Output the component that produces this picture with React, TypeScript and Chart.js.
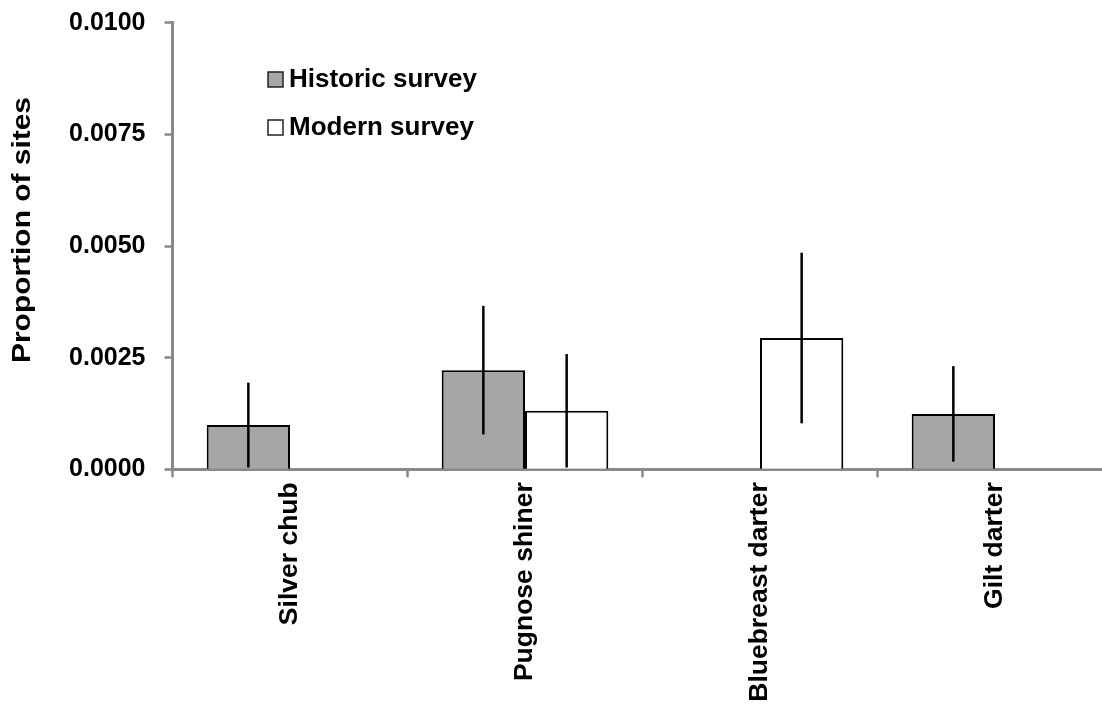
import React, { useEffect, useRef } from "react";
import { Chart, registerables } from "chart.js";

Chart.register(...registerables);

const categories = ["Silver chub", "Pugnose shiner", "Bluebreast darter", "Gilt darter"];
const seriesNames = ["Historic survey", "Modern survey"];
const historicValues = [0.00099, 0.00222, null, 0.00124];
const historicErrors = [0.00095, 0.00144, null, 0.00107];
const modernValues = [null, 0.00131, 0.00294, null];
const modernErrors = [null, 0.00127, 0.00191, null];
const yTickValues = [0, 0.0025, 0.005, 0.0075, 0.01];
const yTitle = "Proportion of sites";

const FONT = "Arial, 'Liberation Sans', sans-serif";
const AXIS_GRAY = "#898989";

const errorBarPlugin = {
  id: "errorBars",
  afterDatasetsDraw(chart: any) {
    const ctx = chart.ctx;
    const y = chart.scales.y;
    chart.data.datasets.forEach((ds: any, di: number) => {
      const meta = chart.getDatasetMeta(di);
      ds.values.forEach((v: number | null, i: number) => {
        const e = ds.errors[i];
        if (v == null || e == null) return;
        const bar = meta.data[i];
        const top = y.getPixelForValue(v + e);
        const bottom = y.getPixelForValue(Math.max(0, v - e));
        ctx.save();
        ctx.strokeStyle = "#000";
        ctx.lineWidth = 2.5;
        ctx.beginPath();
        ctx.moveTo(bar.x, top);
        ctx.lineTo(bar.x, bottom);
        ctx.stroke();
        ctx.restore();
      });
    });
  },
};

const legendTitlePlugin = {
  id: "legendTitle",
  afterDraw(chart: any) {
    const ctx = chart.ctx;
    ctx.save();
    // legend
    chart.data.datasets.forEach((ds: any, i: number) => {
      const bx = 268;
      const by = 72 + i * 48;
      ctx.fillStyle = ds.backgroundColor;
      ctx.fillRect(bx, by, 15, 15);
      ctx.strokeStyle = "#222";
      ctx.lineWidth = 1.5;
      ctx.strokeRect(bx, by, 15, 15);
      ctx.fillStyle = "#000";
      ctx.font = `bold 26px ${FONT}`;
      ctx.textAlign = "left";
      ctx.textBaseline = "middle";
      ctx.fillText(ds.label, 289, by + 8);
    });
    // y axis title
    ctx.translate(23, 230);
    ctx.rotate(-Math.PI / 2);
    ctx.font = `bold 25px ${FONT}`;
    ctx.textAlign = "center";
    ctx.textBaseline = "middle";
    const w = ctx.measureText(yTitle).width;
    const sx = 266 / w;
    ctx.scale(sx, 1);
    ctx.fillStyle = "#000";
    ctx.fillText(yTitle, 0, 0);
    ctx.restore();
  },
};

export default function App() {
  const ref = useRef<HTMLCanvasElement | null>(null);
  useEffect(() => {
    if (!ref.current) return;
    const chart = new Chart(ref.current, {
      type: "bar",
      data: {
        labels: categories,
        datasets: [
          {
            label: seriesNames[0],
            data: historicValues,
            values: historicValues,
            errors: historicErrors,
            backgroundColor: "#a6a6a6",
            borderColor: "#000",
            borderWidth: 2,
          } as any,
          {
            label: seriesNames[1],
            data: modernValues,
            values: modernValues,
            errors: modernErrors,
            backgroundColor: "#ffffff",
            borderColor: "#000",
            borderWidth: 2,
          } as any,
        ],
      },
      options: {
        animation: false,
        responsive: true,
        maintainAspectRatio: false,
        layout: { padding: { top: 22.7, right: 7.5, left: 0, bottom: 0 } },
        datasets: { bar: { categoryPercentage: 0.709, barPercentage: 1 } },
        plugins: { legend: { display: false }, tooltip: { enabled: false } },
        scales: {
          x: {
            offset: true,
            grid: {
              offset: true,
              drawOnChartArea: false,
              drawTicks: true,
              tickLength: 8,
              tickWidth: 2.5,
              tickColor: AXIS_GRAY,
            },
            border: { display: true, color: AXIS_GRAY, width: 3 },
            ticks: {
              autoSkip: false,
              minRotation: 90,
              maxRotation: 90,
              padding: 5,
              color: "#000",
              font: { family: FONT, size: 26.5, weight: "bold" },
            },
            afterFit(scale: any) {
              scale.height = 706 - 469.3;
              scale.paddingLeft = 0;
              scale.paddingRight = 0;
            },
          },
          y: {
            min: 0,
            max: 0.01,
            afterBuildTicks(scale: any) {
              scale.ticks = yTickValues.map((v) => ({ value: v }));
            },
            grid: {
              drawOnChartArea: false,
              drawTicks: true,
              tickLength: 8,
              tickWidth: 2.5,
              tickColor: AXIS_GRAY,
            },
            border: { display: true, color: AXIS_GRAY, width: 3 },
            ticks: {
              padding: 19,
              color: "#000",
              font: { family: FONT, size: 25, weight: "bold" },
              callback: (v: any) => Number(v).toFixed(4),
            },
            afterFit(scale: any) {
              scale.width = 172.5;
              scale.paddingTop = 0;
              scale.paddingBottom = 0;
            },
          },
        },
      },
      plugins: [errorBarPlugin, legendTitlePlugin],
    });
    return () => chart.destroy();
  }, []);

  return (
    <div style={{ position: "fixed", left: 0, top: 0, width: 1102, height: 706, overflow: "hidden", background: "#fff" }}>
      <div style={{ position: "absolute", left: 0, top: 0, width: 1120, height: 706 }}>
        <canvas ref={ref} />
      </div>
    </div>
  );
}
